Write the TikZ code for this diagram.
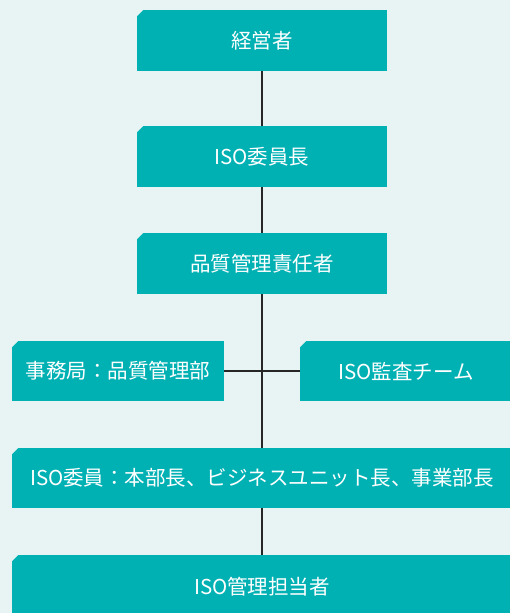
\documentclass[tikz,border=0pt]{standalone}
\usepackage{fontspec}
\setmainfont{Noto Sans CJK JP}
\definecolor{bgc}{HTML}{E8F4F4}
\definecolor{boxc}{HTML}{00B1B4}
\definecolor{linec}{HTML}{262626}
\begin{document}
\begin{tikzpicture}[x=1pt,y=-1pt,
  orgbox/.style={anchor=north west, fill=boxc, text=white, inner sep=0pt, outer sep=0pt,
    font=\fontsize{20.5}{22}\selectfont,
    path picture={\fill[bgc] (path picture bounding box.north west) -- ++(6pt,0) -- ++(-6pt,-6pt) -- cycle;}},
  conn/.style={draw=linec, line width=1.9pt}]
\fill[bgc] (0,0) rectangle (510,613);
\useasboundingbox (0,0) rectangle (510,613);
\node[orgbox, minimum width=250pt, minimum height=61pt] (b1) at (137,10) {経営者};
\node[orgbox, minimum width=250pt, minimum height=61pt] (b2) at (137,126) {ISO委員長};
\node[orgbox, minimum width=250pt, minimum height=61pt] (b3) at (137,233) {品質管理責任者};
\node[orgbox, minimum width=212pt, minimum height=60pt] (b4) at (12,341) {事務局：品質管理部};
\node[orgbox, minimum width=212pt, minimum height=60pt] (b5) at (300,341) {ISO監査チーム};
\node[orgbox, minimum width=500pt, minimum height=60pt] (b6) at (12,448) {ISO委員：本部長、ビジネスユニット長、事業部長};
\node[orgbox, minimum width=500pt, minimum height=63pt] (b7) at (12,555) {ISO管理担当者};
\draw[conn] (b1.south) -- (b2.north);
\draw[conn] (b2.south) -- (b3.north);
\draw[conn] (b3.south) -- (b3.south |- b6.north);
\draw[conn] (b4.east) -- (b5.west);
\draw[conn] (b6.south -| b3.south) -- (b7.north -| b3.south);
\end{tikzpicture}
\end{document}
